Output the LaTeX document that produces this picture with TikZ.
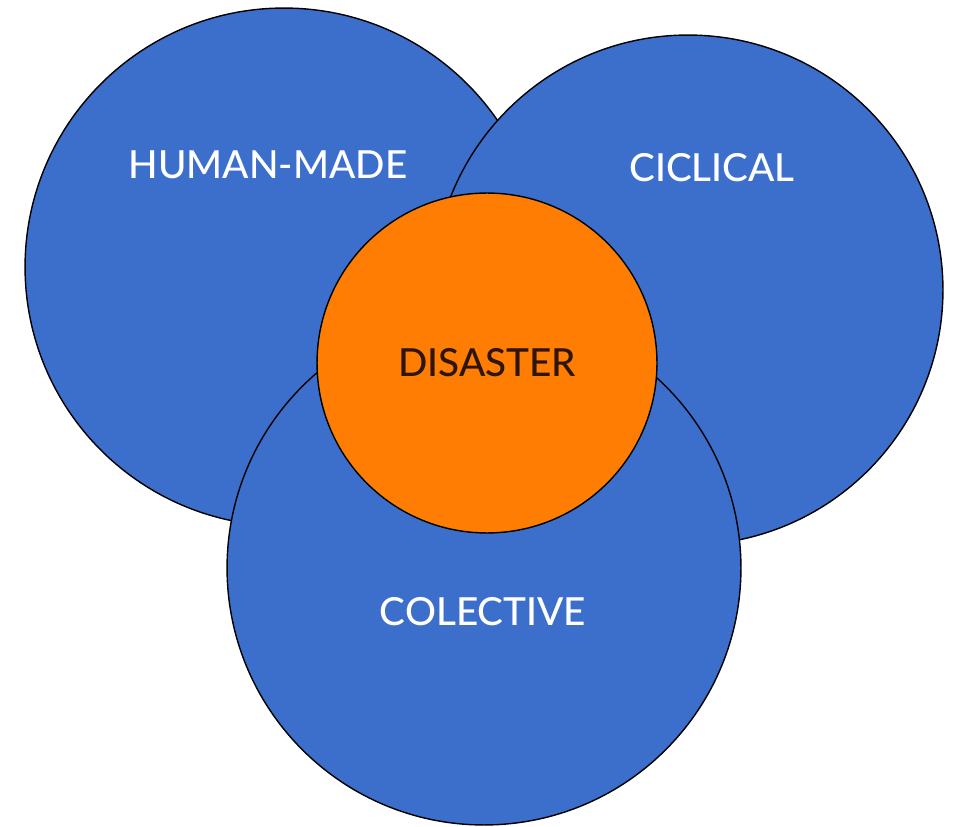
\documentclass[tikz,border=0pt]{standalone}
\usepackage{tikz}
\usepackage{xcolor}
\usepackage{fontspec}
\setmainfont{Lato}
\newfontfamily\labelfont{Lato Medium}
\usetikzlibrary{shapes,positioning,calc}
\definecolor{venblue}{RGB}{60,111,203}
\definecolor{venorange}{RGB}{254,125,2}
\definecolor{darktext}{RGB}{45,20,5}

\begin{document}
\begin{tikzpicture}[x=0.02cm, y=-0.02cm,
    setcircle/.style={draw, circle, line width=0.8pt, fill=venblue},
    setlabel/.style={text=white, font=\labelfont\fontsize{22}{24}\selectfont}]
    \useasboundingbox (0,0) rectangle (959,827);

    % Human-made circle
    \node[setcircle, minimum size=10.36cm] (human) at (284,267) {};
    % Ciclical circle
    \node[setcircle, minimum size=10.2cm] (ciclical) at (688,290) {};
    % Colective circle
    \node[setcircle, minimum size=10.28cm] (colective) at (484,568) {};
    % Disaster circle
    \node[setcircle, minimum size=6.8cm, fill=venorange] (disaster) at (487,363) {};

    % Labels
    \node[setlabel] (humanlabel) at (268,165) {HUMAN-MADE};
    \node[setlabel] (ciclicallabel) at (712,168) {CICLICAL};
    \node[setlabel] (colectivelabel) at (483,612) {COLECTIVE};
    \node[setlabel, text=darktext] (disasterlabel) at (disaster.center) {DISASTER};
\end{tikzpicture}
\end{document}
